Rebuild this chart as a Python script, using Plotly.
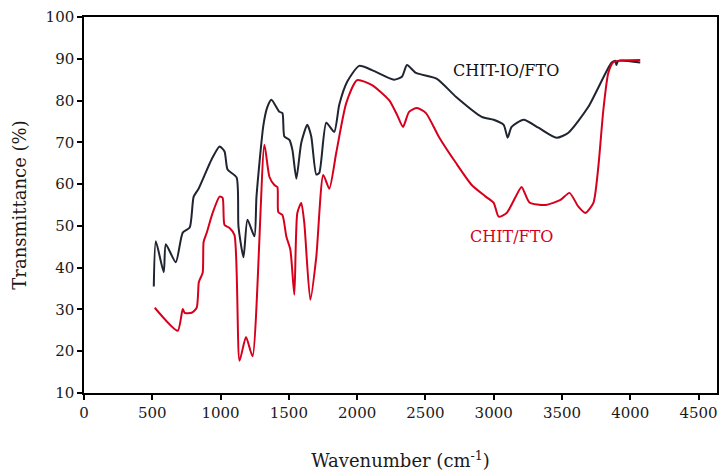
import plotly.graph_objects as go

# CHIT-IO/FTO (black)
io_x = [511, 526, 584, 599, 672, 723, 774, 803, 839, 934, 993, 1029, 1051, 1117, 1131, 1168,
        1197, 1248, 1263, 1314, 1343, 1372, 1431, 1453, 1467, 1504, 1526, 1555, 1591, 1635,
        1664, 1701, 1723, 1774, 1832, 1869, 1927, 2015, 2109, 2270, 2328, 2365, 2431, 2584,
        2723, 2912, 3000, 3073, 3102, 3131, 3219, 3328, 3460, 3547, 3693, 3861, 3891, 3898,
        3912, 4073]
io_y = [35.5, 46.3, 38.9, 45.6, 41.3, 48.4, 49.6, 57.0, 58.9, 65.9, 69.0, 67.8, 63.5, 61.6, 49.9, 42.5,
        51.5, 47.5, 57.0, 74.2, 78.5, 80.2, 77.3, 77.0, 71.4, 70.6, 68.2, 61.3, 69.9, 74.2,
        71.4, 62.3, 62.7, 74.7, 72.5, 79.0, 84.5, 88.3, 87.3, 85.0, 85.7, 88.5, 86.6, 85.2,
        80.9, 76.1, 75.4, 74.2, 71.1, 73.7, 75.4, 73.5, 71.1, 72.3, 78.5, 89.0, 89.5, 88.5,
        89.5, 89.1]

# CHIT/FTO (red)
ch_x = [518, 686, 723, 737, 788, 825, 840, 847, 869, 876, 898, 942, 993, 1015, 1029, 1066, 1102,
        1139, 1186, 1234, 1321, 1358, 1394, 1416, 1423, 1453, 1482, 1511, 1540, 1562, 1591,
        1613, 1657, 1701, 1752, 1796, 1847, 1920, 2000, 2109, 2234, 2292, 2336, 2380, 2438,
        2504, 2599, 2723, 2839, 2942, 3000, 3036, 3095, 3161, 3204, 3262, 3380, 3489, 3555,
        3620, 3672, 3730, 3766, 3803, 3839, 3876, 4073]
ch_y = [30.4, 24.9, 30.1, 29.2, 29.2, 30.4, 36.4, 37.1, 38.8, 46.2, 48.3, 53.1, 57.0, 56.7, 50.2, 49.5, 47.8,
        17.7, 23.4, 18.8, 69.4, 61.7, 59.8, 59.3, 53.3, 52.6, 47.4, 44.3, 33.5, 53.1, 55.5,
        50.7, 32.3, 42.6, 62.2, 58.9, 67.5, 79.4, 84.9, 83.7, 80.1, 76.6, 73.7, 77.3, 78.2,
        77.0, 71.3, 65.1, 59.8, 57.0, 55.5, 52.2, 53.1, 57.0, 59.3, 55.6, 55.0, 56.2, 57.9,
        54.6, 53.1, 55.5, 64.1, 77.8, 86.6, 89.2, 89.7]

x_ticks = [0, 500, 1000, 1500, 2000, 2500, 3000, 3500, 4000, 4500]
y_ticks = [10, 20, 30, 40, 50, 60, 70, 80, 90, 100]

BLACK = "#1f2430"
RED = "#d6001c"
FONT = "DejaVu Serif"

fig = go.Figure()
fig.add_trace(go.Scatter(x=io_x, y=io_y, mode="lines",
                         line=dict(color=BLACK, width=2, shape="spline", smoothing=0.6),
                         name="CHIT-IO/FTO"))
fig.add_trace(go.Scatter(x=ch_x, y=ch_y, mode="lines",
                         line=dict(color=RED, width=2, shape="spline", smoothing=0.6),
                         name="CHIT/FTO"))

fig.add_annotation(x=3088, y=87.3, text="CHIT-IO/FTO", showarrow=False,
                   font=dict(family=FONT, size=16, color="#111111"))
fig.add_annotation(x=3131, y=47.4, text="CHIT/FTO", showarrow=False,
                   font=dict(family=FONT, size=16, color=RED))

axis_common = dict(showgrid=False, zeroline=False, showline=True, linecolor="black", linewidth=1.5,
                   mirror=True, ticks="outside", ticklen=5, tickwidth=1.5, tickcolor="black",
                   tickfont=dict(family=FONT, size=15, color="#1a1a1a"))

fig.update_xaxes(range=[0, 4635], tickvals=x_ticks, ticktext=[str(v) for v in x_ticks],
                 title=dict(text="Wavenumber (cm<sup>-1</sup>)", font=dict(family=FONT, size=18, color="#1a1a1a"),
                            standoff=34),
                 **axis_common)
fig.update_yaxes(range=[10, 100], tickvals=y_ticks, ticktext=[str(v) for v in y_ticks],
                 title=dict(text="Transmittance (%)", font=dict(family=FONT, size=18, color="#1a1a1a"),
                            standoff=14),
                 **axis_common)

fig.update_layout(width=723, height=474, margin=dict(l=84, r=4, t=17, b=81),
                  plot_bgcolor="white", paper_bgcolor="white", showlegend=False)

fig.write_html("out.html")
